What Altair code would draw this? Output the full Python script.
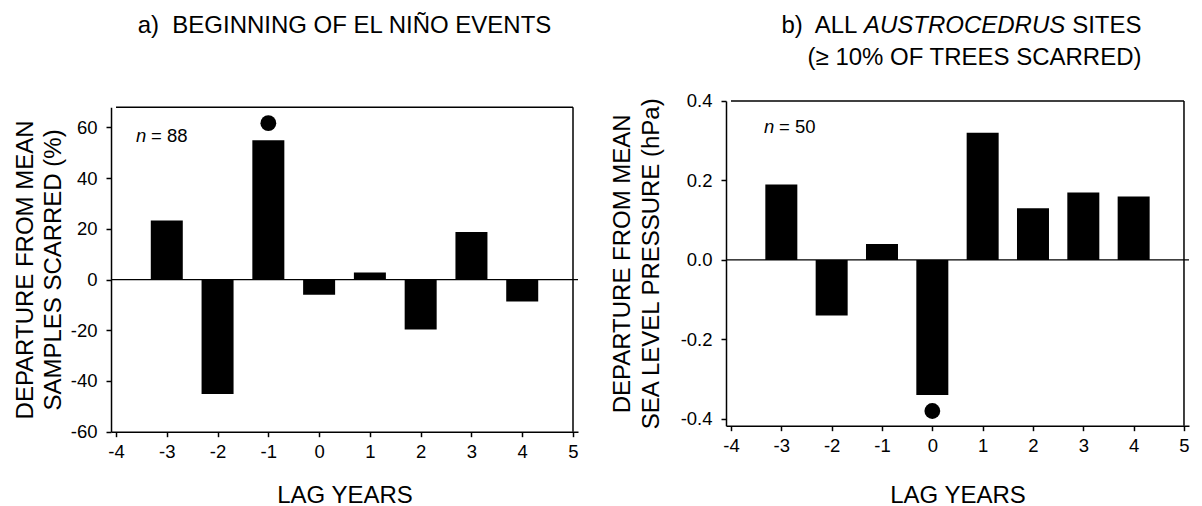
import altair as alt
import pandas as pd

# ---- data ----
lags = [-3, -2, -1, 0, 1, 2, 3, 4]
scar_departure = [23.3, -45.1, 55.0, -6.0, 2.8, -19.7, 18.8, -8.6]
slp_departure = [0.19, -0.14, 0.04, -0.34, 0.32, 0.13, 0.17, 0.16]
sig_a_lag = [-1]
sig_a_val = [61.7]
sig_b_lag = [0]
sig_b_val = [-0.38]
x_ticks = [-4, -3, -2, -1, 0, 1, 2, 3, 4, 5]
x_domain = [-4, 5]
ya_domain = [-60, 68]
yb_domain = [-0.417, 0.4]
ya_ticks = [-60, -40, -20, 0, 20, 40, 60]
yb_ticks = [-0.4, -0.2, 0.0, 0.2, 0.4]
n_a = "= 88"
n_b = "= 50"

FONT = "Liberation Sans"
MINUS = "replace(datum.label, '\u2212', '-')"
NB = "\u00a0"

W_A = 467
W_B = 463
H = 330.7          # common group height (panel b top .. panel a bottom)
A_TOP = 6.2        # panel a frame starts a little lower than panel b
B_BOTTOM = 324.7   # panel b frame height


def txt(s, x, y, size=24, align="left", italic=False):
    return alt.Chart(pd.DataFrame({"t": [s]})).mark_text(
        align=align, baseline="alphabetic", fontSize=size, font=FONT,
        fontStyle="italic" if italic else "normal", color="black",
    ).encode(x=alt.value(x), y=alt.value(y), text="t:N")


def xenc(title_y, offset=0):
    return alt.X(
        "lag:Q",
        scale=alt.Scale(domain=x_domain, nice=False, zero=False),
        axis=alt.Axis(
            values=x_ticks, title="LAG YEARS", titleFontSize=24,
            titleFontWeight="normal", titleY=title_y, titleBaseline="alphabetic",
            labelFontSize=18.5, tickSize=5, tickWidth=1.5, domainWidth=1.5,
            labelPadding=6, labelExpr=MINUS, labelFlush=False, grid=False,
            offset=offset,
        ),
    )


def yenc(domain, rng, ticks, title, title_x, fmt):
    return alt.Y(
        "value:Q",
        scale=alt.Scale(domain=domain, range=rng, nice=False, zero=False),
        axis=alt.Axis(
            values=ticks, format=fmt, title=title, titleFontSize=24,
            titleFontWeight="normal", titleX=title_x, titleY=(rng[0] + rng[1]) / 2,
            titleAngle=270, titleBaseline="bottom", titleAlign="center",
            titleLineHeight=29, labelFontSize=18.5, tickSize=5, tickWidth=1.5,
            domainWidth=1.5, labelPadding=9, labelExpr=MINUS, labelFlush=False,
            grid=False,
        ),
    )


def frame(xe, ye, ydom):
    top = pd.DataFrame({"lag": [x_domain[0]], "lag2": [x_domain[1]], "value": [ydom[1]]})
    right = pd.DataFrame({"lag": [x_domain[1]], "value": [ydom[0]], "value2": [ydom[1]]})
    t = alt.Chart(top).mark_rule(color="black", strokeWidth=1.5).encode(x=xe, x2="lag2:Q", y=ye)
    r = alt.Chart(right).mark_rule(color="black", strokeWidth=1.5).encode(x=xe, y=ye, y2="value2:Q")
    return t, r


# ---- panel a ----
df_a = pd.DataFrame({"lag": lags, "value": scar_departure})
dot_a = pd.DataFrame({"lag": sig_a_lag, "value": sig_a_val})
zero_a = pd.DataFrame({"value": [0]})
xa = xenc(70.5)
ya = yenc(ya_domain, [H, A_TOP], ya_ticks,
          ["DEPARTURE FROM MEAN", "SAMPLES SCARRED (%)"], -74, "d")

bars_a = alt.Chart(df_a).mark_bar(color="black", size=32).encode(x=xa, y=ya)
rule_a = alt.Chart(zero_a).mark_rule(color="black", strokeWidth=1.2).encode(y=ya)
pt_a = alt.Chart(dot_a).mark_point(filled=True, color="black", size=250, opacity=1).encode(x=xa, y=ya)
fa_top, fa_right = frame(xa, ya, ya_domain)

panel_a = alt.layer(
    bars_a, rule_a, pt_a, fa_top, fa_right,
    txt("a)" + NB + " BEGINNING OF EL NI\u00d1O EVENTS", W_A / 2, -67.6, align="center"),
    txt("n", 25, A_TOP + 34.5, size=18.5, italic=True),
    txt(n_a, 40, A_TOP + 34.5, size=18.5),
).properties(width=W_A, height=H)

# ---- panel b ----
df_b = pd.DataFrame({"lag": lags, "value": slp_departure})
dot_b = pd.DataFrame({"lag": sig_b_lag, "value": sig_b_val})
zero_b = pd.DataFrame({"value": [0]})
xb = xenc(76.5, offset=-(H - B_BOTTOM))
yb = yenc(yb_domain, [B_BOTTOM, 0], yb_ticks,
          ["DEPARTURE FROM MEAN", "SEA LEVEL PRESSURE (hPa)"], -91, ".1f")

bars_b = alt.Chart(df_b).mark_bar(color="black", size=32).encode(x=xb, y=yb)
rule_b = alt.Chart(zero_b).mark_rule(color="black", strokeWidth=1.2).encode(y=yb)
pt_b = alt.Chart(dot_b).mark_point(filled=True, color="black", size=250, opacity=1).encode(x=xb, y=yb)
fb_top, fb_right = frame(xb, yb, yb_domain)

panel_b = alt.layer(
    bars_b, rule_b, pt_b, fb_top, fb_right,
    txt("b)" + NB + " ALL", 131.4, -67.6, align="right"),
    txt("AUSTROCEDRUS", 138, -67.6, italic=True),
    txt("SITES", 415.5, -67.6, align="right"),
    txt("(\u2265 10% OF TREES SCARRED)", 415.5, -36, align="right"),
    txt("n", 38, 31.7, size=18.5, italic=True),
    txt(n_b, 53, 31.7, size=18.5),
).properties(width=W_B, height=H)

chart = alt.hconcat(panel_a, panel_b, spacing=30).properties(
    padding={"left": 12, "top": 13, "right": 0, "bottom": 0},
    background="white",
).configure_view(stroke="transparent").configure_axis(
    labelFont=FONT, titleFont=FONT, labelColor="black", titleColor="black",
    domainColor="black", tickColor="black", grid=False,
)

chart.save("out.html", embed_options={"renderer": "svg", "actions": False})
